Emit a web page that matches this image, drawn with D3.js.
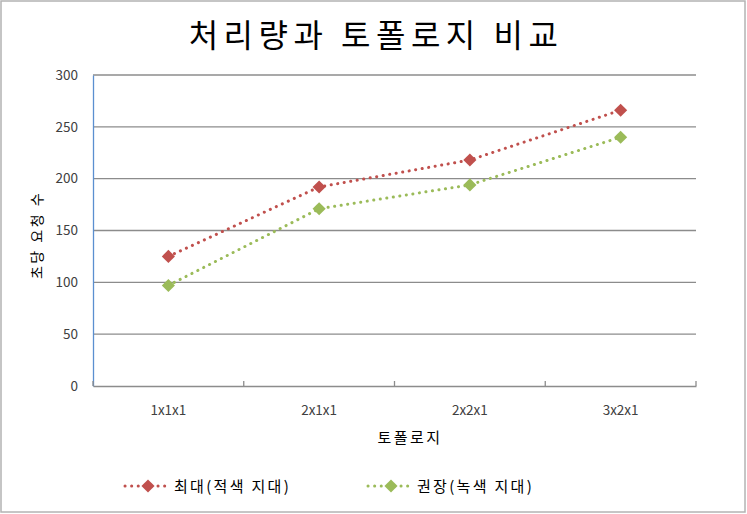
<!DOCTYPE html>
<html><head><meta charset="utf-8">
<script src="https://cdn.jsdelivr.net/npm/d3@7"></script>
<style>body{margin:0;background:#fff}svg{display:block}</style>
</head><body><svg id="c" width="747" height="514"></svg>
<script>
const categories = ["1x1x1","2x1x1","2x2x1","3x2x1"];
const maxValues = [125, 192, 218, 266];
const recValues = [97, 171, 194, 240];
const yTicks = [0,50,100,150,200,250,300];
const seriesNames = ["최대(적색 지대)","권장(녹색 지대)"];
const titleText = "처리량과 토폴로지 비교";
const xTitle = "토폴로지";
const yTitle = "초당 요청 수";

const font = "'Noto Sans CJK KR','Noto Sans',sans-serif";
const svg = d3.select("#c");
svg.append("rect").attr("x",1).attr("y",1).attr("width",744).attr("height",511)
  .attr("fill","#fff").attr("stroke","#b3b3b3").attr("stroke-width",1.5);

const L=93,R=696,T=75,B=386;
const x = d3.scaleBand().domain(categories).range([L,R]);
const y = d3.scaleLinear().domain([0,300]).range([B,T]);

svg.append("text").attr("x",376).attr("y",47).attr("text-anchor","middle")
  .attr("font-family",font).attr("font-size",32).attr("fill","#000")
  .attr("letter-spacing",5.5).text(titleText);

// gridlines
svg.append("g").selectAll("line").data(yTicks.filter(d=>d>0)).join("line")
  .attr("x1",L).attr("x2",R).attr("y1",d=>y(d)).attr("y2",d=>y(d))
  .attr("stroke","#8c8c8c").attr("stroke-width",1.3);

// y axis
const ya = svg.append("g").attr("transform",`translate(${L},0)`)
  .call(d3.axisLeft(y).tickValues(yTicks).tickSize(0).tickPadding(15));
ya.select(".domain").attr("stroke","#5b8fd0").attr("stroke-width",1.3);
ya.selectAll("text").attr("font-family",font).attr("font-size",13.5).attr("fill","#404040");

// x axis
const xa = svg.append("g").attr("transform",`translate(0,${B})`)
  .call(d3.axisBottom(x).tickSize(0).tickPadding(19));
xa.select(".domain").attr("stroke","#8c8c8c").attr("stroke-width",1.3);
xa.selectAll("text").attr("font-family",font).attr("font-size",13.5).attr("fill","#404040");
const xt = [L].concat(categories.map(c=>x(c)+x.bandwidth()));
svg.append("g").selectAll("line").data(xt).join("line")
  .attr("x1",d=>d).attr("x2",d=>d).attr("y1",B).attr("y2",B-5)
  .attr("stroke","#8c8c8c").attr("stroke-width",1.3);

svg.append("text").attr("x",410).attr("y",443).attr("text-anchor","middle")
  .attr("font-family",font).attr("font-size",15).attr("fill","#000")
  .attr("letter-spacing",2.5).text(xTitle);
svg.append("text").attr("transform","translate(42,235) rotate(-90)").attr("text-anchor","middle")
  .attr("font-family",font).attr("font-size",14).attr("fill","#000")
  .attr("letter-spacing",2.5).text(yTitle);

const series = [
  {name:seriesNames[0], values:maxValues, color:"#c0504d"},
  {name:seriesNames[1], values:recValues, color:"#9bbb59"}
];
const line = d3.line().x((d,i)=>x(categories[i])+x.bandwidth()/2).y(d=>y(d));
const diamond = d3.symbol().type(d3.symbolDiamond2).size(110);
series.forEach(s=>{
  svg.append("path").attr("d",line(s.values)).attr("fill","none")
    .attr("stroke",s.color).attr("stroke-width",3).attr("stroke-dasharray","0.1 6.5").attr("stroke-linecap","round");
  svg.append("g").selectAll("path").data(s.values).join("path")
    .attr("transform",(d,i)=>`translate(${x(categories[i])+x.bandwidth()/2},${y(d)})`)
    .attr("d",diamond).attr("fill",s.color);
});

// legend
const lx=[125,368];
series.forEach((s,i)=>{
  const g=svg.append("g").attr("transform",`translate(${lx[i]},486)`);
  g.append("line").attr("x1",0).attr("x2",44).attr("y1",0).attr("y2",0)
    .attr("stroke",s.color).attr("stroke-width",3).attr("stroke-dasharray","0.1 6.5").attr("stroke-linecap","round");
  g.append("path").attr("transform","translate(23,0)").attr("d",diamond).attr("fill",s.color);
  g.append("text").attr("x",49).attr("y",5.5).attr("font-family",font).attr("font-size",15)
    .attr("fill","#000").attr("letter-spacing",2.3).text(s.name);
});
</script></body></html>
